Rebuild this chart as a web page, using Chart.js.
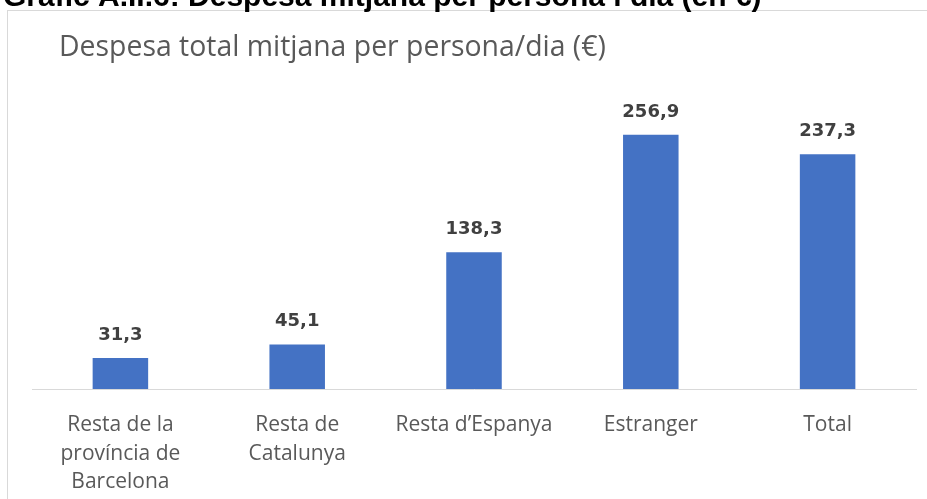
<!DOCTYPE html>
<html>
<head>
<meta charset="utf-8">
<script src="https://cdn.jsdelivr.net/npm/chart.js@4"></script>
<style>
  html, body { margin: 0; padding: 0; background: #fff; overflow: hidden; }
  #box { position: absolute; left: 7px; top: 10px; width: 960px; height: 600px; border: 1px solid #d9d9d9; }
  #chartDespesa { position: absolute; left: 0; top: 0; }
</style>
</head>
<body>
<div id="box"></div>
<canvas id="chartDespesa" width="927" height="499"></canvas>
<script>
const heading = 'Gràfic A.II.6: Despesa mitjana per persona i dia (en €)';
const chartTitle = 'Despesa total mitjana per persona/dia (€)';
const categories = [
    ['Resta de la', 'província de', 'Barcelona'],
    ['Resta de', 'Catalunya'],
    'Resta d’Espanya',
    'Estranger',
    'Total'
];
const despesa = [31.3, 45.1, 138.3, 256.9, 237.3];

// titols i etiquetes de valor
const textPlugin = {
    id: 'textPlugin',
    afterDatasetsDraw(chart) {
        const ctx = chart.ctx;
        const meta = chart.getDatasetMeta(0);
        ctx.save();
        ctx.fillStyle = '#404040';
        ctx.font = 'bold 18px "DejaVu Sans"';
        ctx.textAlign = 'center';
        ctx.textBaseline = 'middle';
        meta.data.forEach(function (bar, i) {
            const txt = despesa[i].toFixed(1).replace('.', ',');
            ctx.fillText(txt, bar.x, bar.y - 23);
        });

        ctx.textAlign = 'left';
        ctx.fillStyle = '#595959';
        ctx.font = '28.4px "Open Sans"';
        ctx.fillText(chartTitle, 59, 48);

        ctx.fillStyle = '#000';
        ctx.font = 'bold 30px "Liberation Sans"';
        ctx.textBaseline = 'alphabetic';
        ctx.fillText(heading, 3, 6);
        ctx.restore();
    }
};

const ctx = document.getElementById('chartDespesa').getContext('2d');
const myChart = new Chart(ctx, {
    type: 'bar',
    data: {
        labels: categories,
        datasets: [{
            label: 'Despesa',
            data: despesa,
            backgroundColor: '#4472C4',
            borderWidth: 0,
            barPercentage: 0.314,
            categoryPercentage: 1
        }]
    },
    options: {
        responsive: false,
        animation: false,
        layout: {
            padding: { left: 32, right: 11, top: 112, bottom: 4.5 }
        },
        plugins: {
            legend: { display: false },
            tooltip: { enabled: false }
        },
        scales: {
            x: {
                grid: { display: false, drawTicks: false },
                border: { display: true, color: '#d9d9d9', width: 1 },
                ticks: {
                    color: '#595959',
                    font: { family: '"Open Sans"', size: 21, lineHeight: 28.5 / 21 },
                    padding: 22,
                    maxRotation: 0,
                    minRotation: 0,
                    autoSkip: false
                },
                afterFit: function (scale) {
                    scale.height = 105.5;
                }
            },
            y: {
                display: false,
                min: 0,
                max: 280
            }
        }
    },
    plugins: [textPlugin]
});
</script>
</body>
</html>
